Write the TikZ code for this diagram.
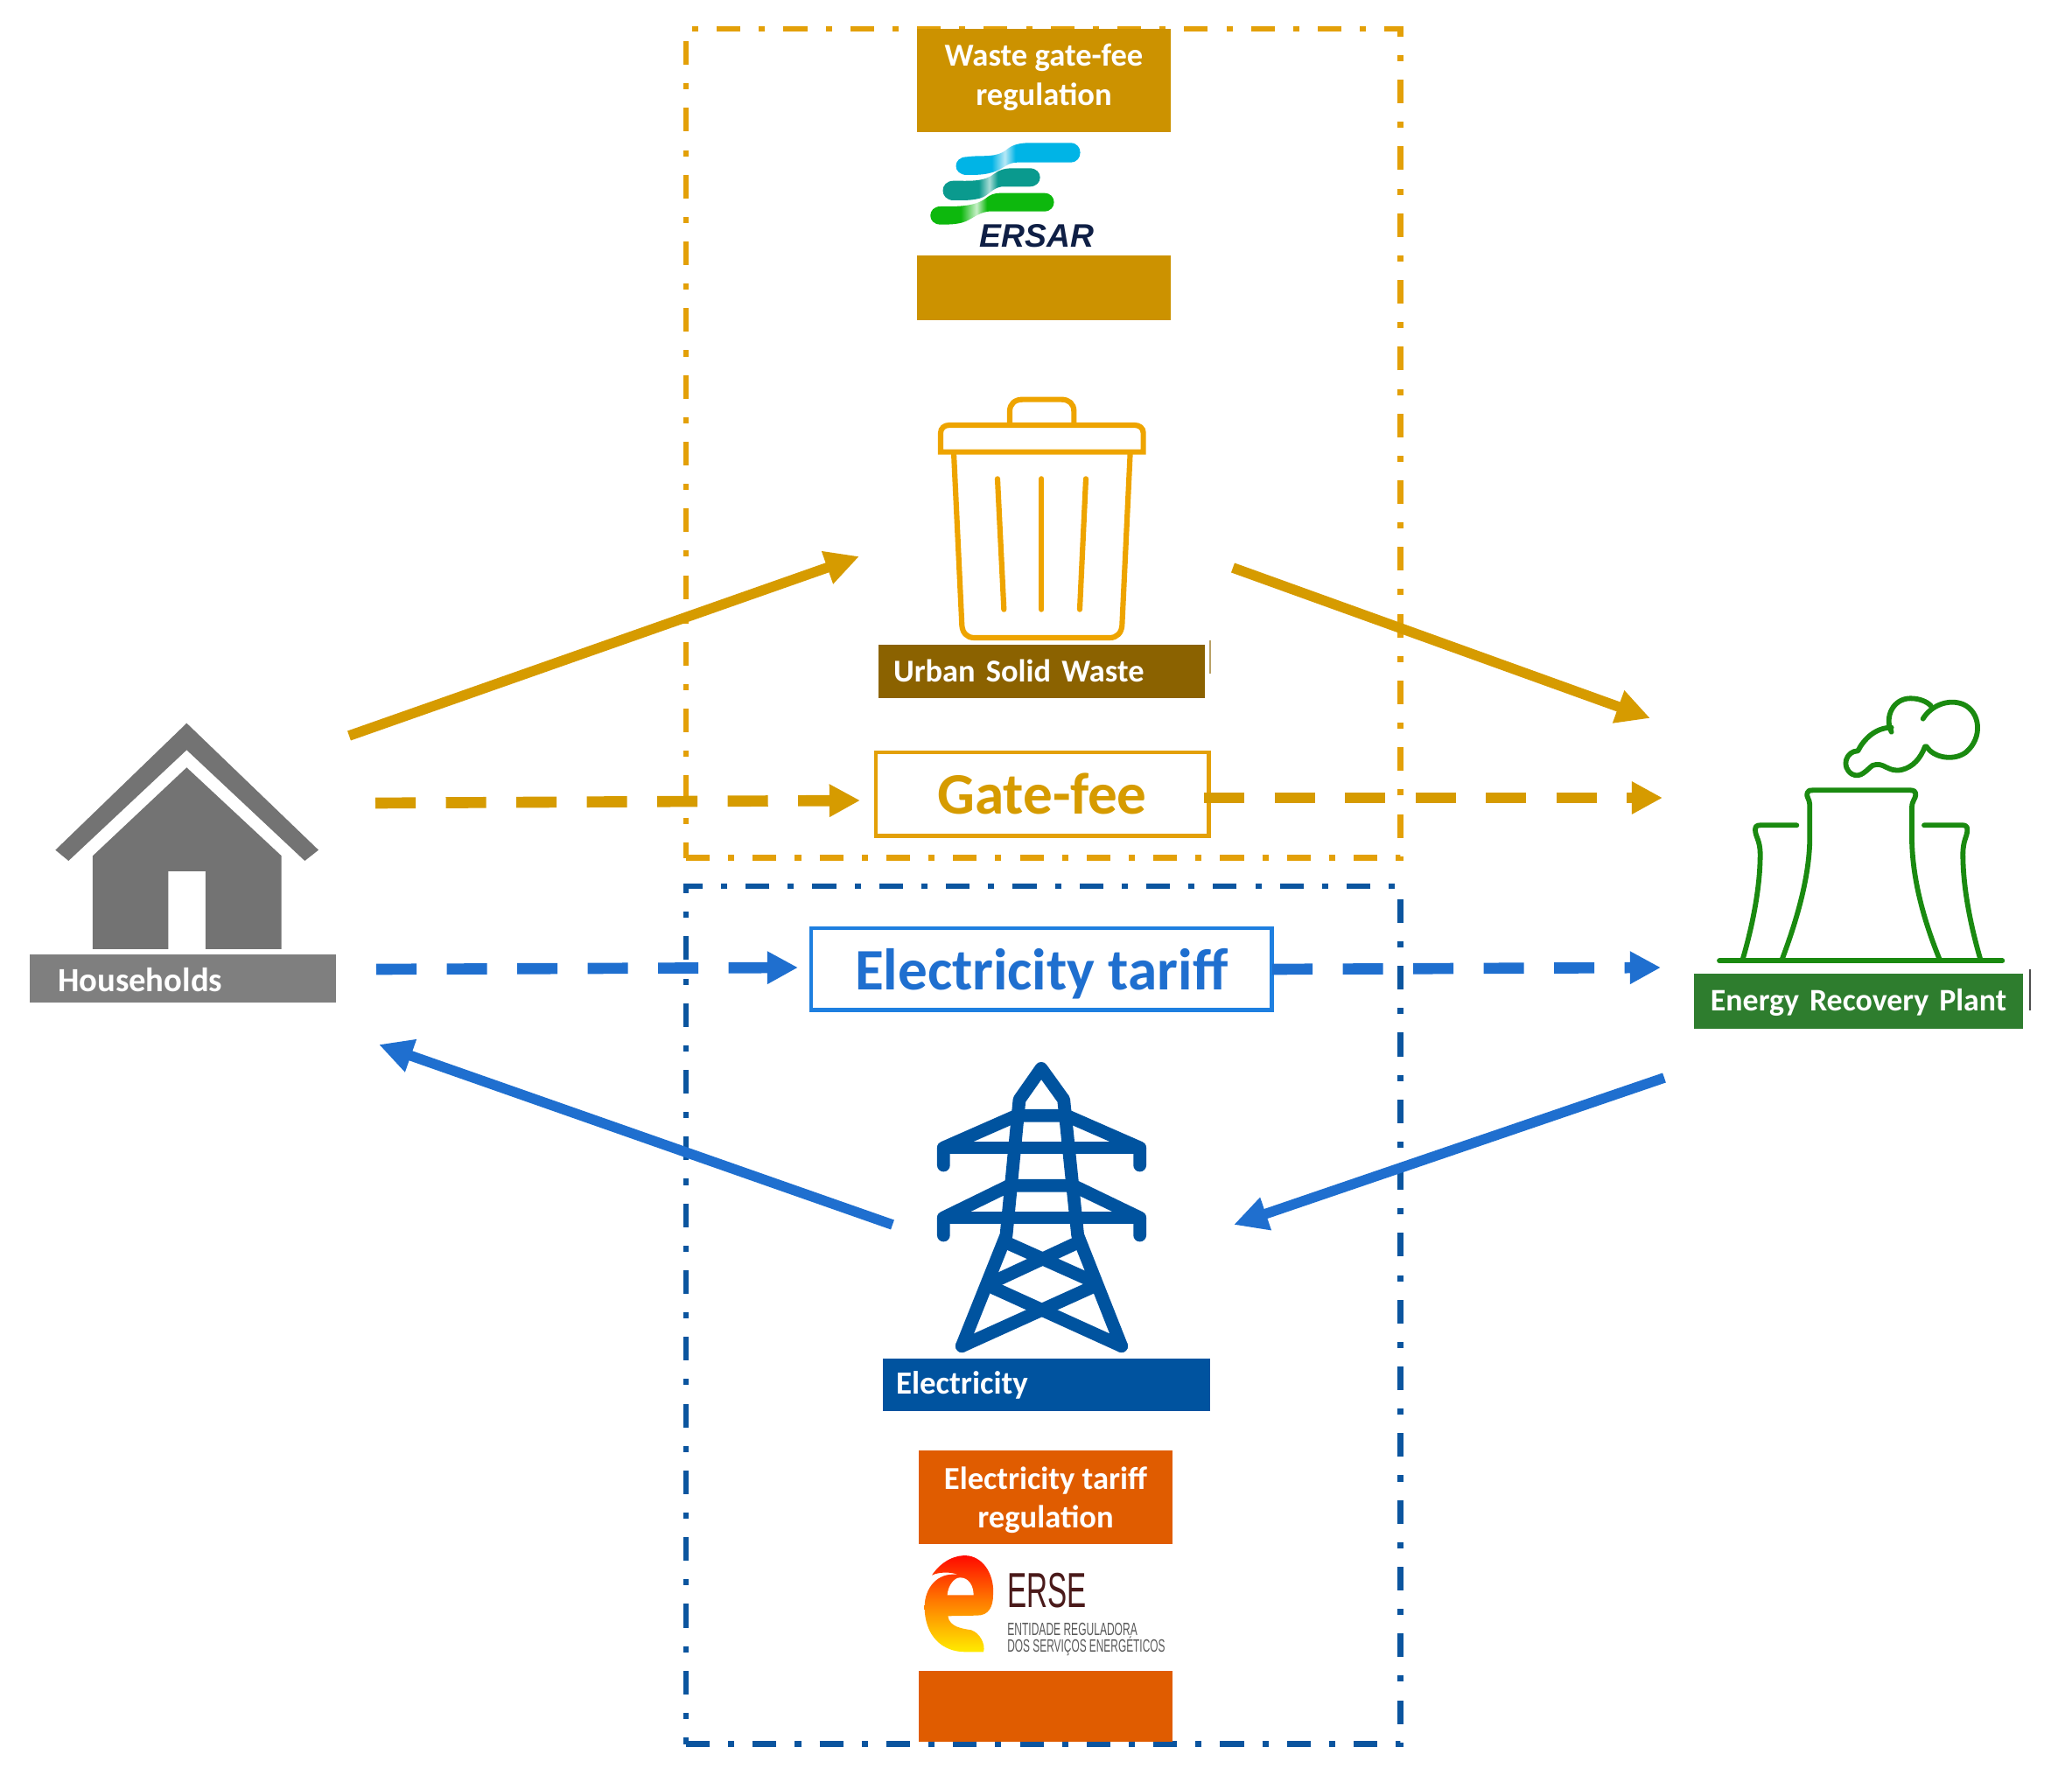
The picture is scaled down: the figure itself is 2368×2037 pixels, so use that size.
\documentclass[tikz,border=0pt]{standalone}
\usepackage{fontspec}
\setmainfont{Carlito}
\newfontfamily\arialf{Liberation Sans}
\usetikzlibrary{arrows.meta}
\definecolor{arrO}{HTML}{D69B00}
\definecolor{frmO}{HTML}{E3A008}
\definecolor{regO}{HTML}{CC9200}
\definecolor{binO}{HTML}{EEA400}
\definecolor{wasteB}{HTML}{8B6200}
\definecolor{arrB}{HTML}{1F6FCF}
\definecolor{boxB}{HTML}{1E7FE0}
\definecolor{frmB}{HTML}{0B559F}
\definecolor{towerB}{HTML}{00539F}
\definecolor{regR}{HTML}{E05C00}
\definecolor{plantG}{HTML}{1A8A10}
\definecolor{plantL}{HTML}{2E7D2E}
\definecolor{houseD}{HTML}{737373}
\definecolor{houseL}{HTML}{7F7F7F}
\definecolor{bandA}{HTML}{00B4E6}
\definecolor{bandAl}{HTML}{B8E8F6}
\definecolor{bandB}{HTML}{0A9A8E}
\definecolor{bandBl}{HTML}{A8DCD6}
\definecolor{bandC}{HTML}{0DB80D}
\definecolor{bandCl}{HTML}{C8F0C8}
\pgfdeclarehorizontalshading{ersarA}{100bp}{color(0bp)=(bandA);color(40bp)=(bandA);color(45bp)=(bandAl);color(49bp)=(bandA);color(100bp)=(bandA)}
\pgfdeclarehorizontalshading{ersarB}{100bp}{color(0bp)=(bandB);color(44bp)=(bandB);color(49bp)=(bandBl);color(53bp)=(bandB);color(100bp)=(bandB)}
\pgfdeclarehorizontalshading{ersarC}{100bp}{color(0bp)=(bandC);color(38bp)=(bandC);color(44bp)=(bandCl);color(48bp)=(bandC);color(100bp)=(bandC)}
\tikzset{
  framebox/.style={draw=#1,line width=1.8pt,outer sep=0pt,dash pattern=on 7.7pt off 6pt on 2pt off 6pt,minimum width=8.16cm,anchor=north west,inner sep=0pt},
  regbox/.style={fill=#1,inner sep=0pt,outer sep=0pt,anchor=north west,minimum width=2.9cm},
  regtext/.style={inner sep=0pt,text=white,font=\fontsize{10.4}{12.6}\selectfont\bfseries,align=center},
  tagbox/.style 2 args={fill=#1,inner sep=0pt,outer sep=0pt,anchor=north west,text=white,font=\fontsize{#2}{13}\selectfont\bfseries,align=left},
  pricebox/.style={draw=#1,fill=white,line width=1.4pt,inner sep=0pt,outer sep=0pt,anchor=north west},
  flow/.style={draw=#1,line width=3.3pt,-{Triangle[length=11pt,width=10.5pt,fill=#1]}},
  flowd/.style={draw=#1,line width=3.6pt,dash pattern=on 13.1pt off 9.8pt,-{Triangle[length=10pt,width=10pt,fill=#1]}},
  binline/.style={draw=binO,line width=1.75pt,line cap=round,line join=round},
  towerline/.style={draw=towerB,line width=4.2pt,line cap=round,line join=round},
  plantline/.style={draw=plantG,line width=1.65pt,line cap=round,line join=round},
}
\begin{document}
\begin{tikzpicture}[x=0.01cm,y=-0.01cm]
\useasboundingbox (0,0) rectangle (2368,2037);
% frames
\node[framebox=frmO,minimum height=9.47cm] (frameO) at (784,33) {};
\node[framebox=frmB,minimum height=9.8cm] (frameB) at (784,1013) {};
% regulation boxes
\node[regbox=regO,minimum height=1.18cm] (wasteReg) at (1048,33) {};
\node[regtext] (wasteRegT) at (1193,88.5) {Waste gate-fee\\regulation};
\node[regbox=regO,minimum height=0.74cm] (wasteRegB) at (1048,292) {};
\node[regbox=regR,minimum height=1.07cm] (elecReg) at (1050,1658) {};
\node[regtext] (elecRegT) at (1195,1714.5) {Electricity tariff\\regulation};
\node[regbox=regR,minimum height=0.81cm] (elecRegB) at (1050,1910) {};
% ERSAR logo
\begin{scope}[shift={(1020,20)},scale=1/3]
\shade[shading=ersarA]
 (255,478) .. controls (310,470) and (355,485) .. (395,450) .. controls (415,435) and (440,430) .. (470,430) -- (610,430)
 .. controls (655,430) and (655,497) .. (610,497) -- (430,497) .. controls (395,497) and (385,515) .. (355,527)
 .. controls (320,540) and (290,540) .. (255,540) .. controls (205,540) and (205,478) .. (255,478) -- cycle;
\shade[shading=ersarB]
 (210,560) .. controls (260,560) and (315,565) .. (350,535) .. controls (370,520) and (390,517) .. (410,517) -- (470,517)
 .. controls (518,517) and (518,580) .. (470,580) -- (375,580) .. controls (340,585) and (330,612) .. (300,620)
 .. controls (270,628) and (240,627) .. (210,627) .. controls (160,627) and (160,560) .. (210,560) -- cycle;
\shade[shading=ersarC]
 (165,648) .. controls (220,648) and (280,650) .. (320,620) .. controls (335,607) and (350,602) .. (370,602) -- (520,602)
 .. controls (565,602) and (565,665) .. (520,665) -- (330,665) .. controls (290,670) and (270,695) .. (240,703)
 .. controls (215,710) and (190,710) .. (165,710) .. controls (118,710) and (118,648) .. (165,648) -- cycle;
\node[inner sep=0pt,text={rgb,255:red,15;green,31;blue,69}] (ersar) at (495,750) {\arialf\fontsize{10.6}{12}\selectfont\bfseries\itshape ERSAR};
\end{scope}
% ERSE logo
\begin{scope}[shift={(1020,1640)},scale=1/3]
\shade[top color=red!95!orange,bottom color=yellow!85!orange,middle color=orange]
 (135,482) .. controls (170,430) and (220,410) .. (260,415) .. controls (320,425) and (350,490) .. (345,550)
 .. controls (345,590) and (330,620) .. (290,620) -- (190,622) .. controls (195,660) and (240,665) .. (270,670)
 .. controls (300,680) and (320,720) .. (312,745) -- (250,745) .. controls (170,745) and (110,690) .. (110,590)
 .. controls (110,530) and (150,470) .. (225,480) .. controls (200,470) and (160,470) .. (135,482) -- cycle;
\fill[white] (188,550) .. controls (190,520) and (210,490) .. (232,490) .. controls (262,490) and (278,520) .. (278,550) -- cycle;
\node[inner sep=0pt,anchor=base west,text={rgb,255:red,74;green,26;blue,26}] (erseT) at (392,593) {\arialf\scalebox{0.59}[1]{\fontsize{16}{18}\selectfont ERSE}};
\node[inner sep=0pt,anchor=base west,text=black!65] (erseA) at (392,688) {\arialf\scalebox{0.59}[1]{\fontsize{5.8}{7}\selectfont ENTIDADE REGULADORA}};
\node[inner sep=0pt,anchor=base west,text=black!65] (erseB) at (392,746) {\arialf\scalebox{0.583}[1]{\fontsize{5.8}{7}\selectfont DOS SERVIÇOS ENERGÉTICOS}};
\end{scope}
% Bin
\begin{scope}[shift={(1000,430)},scale=1/3]
\draw[binline] (462,165) -- (462,120) .. controls (462,95) and (480,80) .. (505,80) -- (640,80) .. controls (665,80) and (682,95) .. (682,120) -- (682,165);
\draw[binline,line cap=butt,line join=miter] (225,260) -- (225,195) .. controls (225,178) and (238,168) .. (255,168) -- (890,168) .. controls (907,168) and (920,178) .. (920,195) -- (920,260) -- cycle;
\draw[binline] (270,262) -- (298,855) .. controls (300,880) and (315,897) .. (340,897) -- (805,897) .. controls (830,897) and (845,880) .. (847,855) -- (875,262);
\draw[binline] (420,352) -- (442,800);
\draw[binline] (571,352) -- (571,800);
\draw[binline] (723,352) -- (702,800);
\end{scope}
\node[tagbox={wasteB}{10.35},minimum width=3.73cm,minimum height=0.61cm,text width=3.39cm,inner xsep=0.17cm,text height=9.1pt,text depth=2.2pt] (waste) at (1004,737) {Urban Solid Waste};
\draw[line width=0.4pt,color=wasteB!60!white] (1383,732) -- (1383,770);
% Price boxes
\node[pricebox=frmO,minimum width=3.8cm,minimum height=0.95cm,text=arrO,text depth=0pt,font=\fontsize{19.1}{23}\selectfont\bfseries] (gatefee) at (1001,860) {Gate-fee};
\node[pricebox=boxB,minimum width=5.26cm,minimum height=0.93cm,text=arrB,text height=16.5pt,font=\fontsize{19.1}{23}\selectfont\bfseries] (tariff) at (927,1061) {Electricity tariff};
% Tower
\begin{scope}[shift={(1020,1192)},scale=1/3]
\draw[towerline] (238,1040) -- (390,660) -- (435,195) -- (510,88) -- (587,195) -- (635,660) -- (785,1040);
\draw[towerline] (175,420) -- (175,360) -- (425,250) -- (597,250) -- (848,360) -- (848,420);
\draw[towerline] (175,360) -- (848,360);
\draw[towerline] (175,660) -- (175,600) -- (400,490) -- (620,490) -- (848,600) -- (848,660);
\draw[towerline] (175,600) -- (848,600);
\draw[towerline] (390,685) -- (680,815);
\draw[towerline] (635,685) -- (345,820);
\draw[towerline] (345,840) -- (785,1040);
\draw[towerline] (680,840) -- (238,1040);
\end{scope}
\node[tagbox={towerB}{10.5},minimum width=3.74cm,minimum height=0.6cm,text width=3.44cm,inner xsep=0.15cm,text height=9.1pt,text depth=3pt] (elec) at (1009,1553) {Electricity};
% House
\begin{scope}[shift={(20,800)},scale=1/3]
\fill[houseD] (580,80) -- (1032,515) -- (985,552) -- (580,172) -- (175,552) -- (130,515) -- cycle;
\fill[houseD] (258,535) -- (580,232) -- (905,535) -- (905,855) -- (645,855) -- (645,588) -- (517,588) -- (517,855) -- (258,855) -- cycle;
\end{scope}
\node[tagbox={houseL}{11},minimum width=3.5cm,minimum height=0.55cm,text width=2.86cm,inner xsep=0.32cm,text height=9.1pt,text depth=0.5pt] (house) at (34,1091) {Households};
% Plant
\begin{scope}[shift={(1900,770)},scale=1/3]
\draw[plantline] (195,985) -- (1165,985);
\draw[plantline] (410,980) .. controls (470,820) and (505,680) .. (505,560) -- (505,450) .. controls (505,430) and (490,420) .. (497,408) .. controls (500,400) and (505,400) .. (515,400) -- (850,400) .. controls (860,400) and (868,403) .. (868,415) .. controls (868,430) and (855,435) .. (855,460) -- (855,560) .. controls (855,680) and (885,820) .. (950,980);
\draw[plantline] (275,980) .. controls (310,860) and (335,730) .. (335,620) .. controls (335,570) and (318,560) .. (318,535) .. controls (318,525) and (322,520) .. (335,520) -- (460,520);
\draw[plantline] (1090,980) .. controls (1055,860) and (1030,730) .. (1030,620) .. controls (1030,570) and (1045,560) .. (1045,535) .. controls (1045,525) and (1040,520) .. (1030,520) -- (897,520);
\draw[plantline] (905,250) .. controls (930,290) and (1000,300) .. (1040,270) .. controls (1100,220) and (1090,130) .. (1030,105) .. controls (980,85) and (920,110) .. (893,155);
\draw[plantline] (785,200) .. controls (760,150) and (790,85) .. (850,85) .. controls (880,85) and (905,95) .. (920,110);
\draw[plantline] (785,185) .. controls (730,185) and (690,225) .. (670,265) .. controls (630,265) and (610,320) .. (650,345) .. controls (680,360) and (700,330) .. (720,315) .. controls (760,300) and (770,340) .. (820,330) .. controls (860,320) and (885,290) .. (900,250);
\end{scope}
\node[tagbox={plantL}{10.2},minimum width=3.76cm,minimum height=0.63cm,align=center,text width=3.76cm,text height=9.1pt,text depth=3pt] (plant) at (1936,1113) {Energy Recovery Plant};
\draw[line width=0.8pt,color=black!70] (2320,1108) -- (2320,1155);
% connector ends
\coordinate (hA) at (399,841);
\coordinate (hB) at (429,918);
\coordinate (hC) at (430,1108);
\coordinate (hD) at (433,1194);
\coordinate (binIn) at (982,636);
\coordinate (binOut) at (1409,649);
\coordinate (gIn) at (983,915);
\coordinate (gOut) at (1376,912);
\coordinate (tIn) at (912,1106);
\coordinate (tOut) at (1454,1108);
\coordinate (pA) at (1886,821);
\coordinate (pB) at (1900,912);
\coordinate (pC) at (1898,1106);
\coordinate (pD) at (1902,1232);
\coordinate (towIn) at (1410,1400);
\coordinate (towOut) at (1020,1400);
% connectors
\draw[flow=arrO] (hA) -- (binIn);
\draw[flow=arrO] (binOut) -- (pA);
\draw[flowd=arrO] (hB) -- (gIn);
\draw[flowd=arrO] (gOut) -- (pB);
\draw[flowd=arrB] (hC) -- (tIn);
\draw[flowd=arrB] (tOut) -- (pC);
\draw[flow=arrB] (pD) -- (towIn);
\draw[flow=arrB] (towOut) -- (hD);
\end{tikzpicture}
\end{document}
